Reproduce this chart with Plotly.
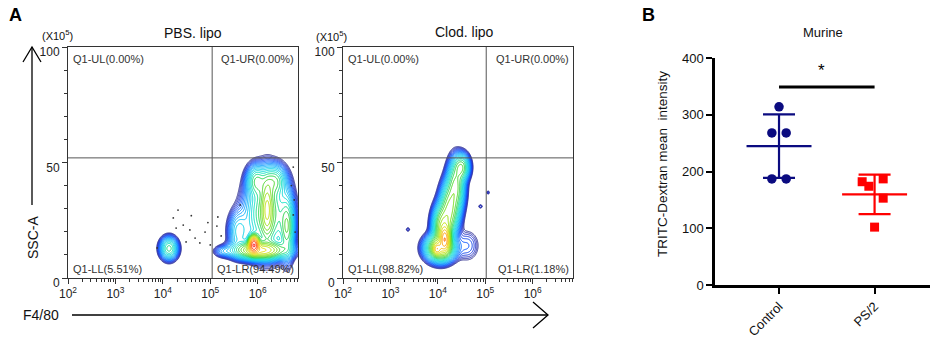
import numpy as np
import plotly.graph_objects as go

W, H = 931, 346
FONT = "Liberation Sans, Arial, sans-serif"

# ---------------- Panel A data (flow cytometry, log10 F4/80 vs SSC-A x10^5) ----------------
# Gaussian populations: centre (log10 x, y), spread, relative weight
pbs_lx = [4.13, 5.92, 6.05, 6.20, 5.98, 6.35, 6.20, 6.62, 5.60, 5.30]
pbs_y  = [12.8, 14.5, 12.0, 28.0, 42.0, 42.0, 30.0, 22.0, 20.0, 11.5]
pbs_sx = [0.10, 0.06, 0.28, 0.24, 0.11, 0.13, 0.07, 0.08, 0.12, 0.12]
pbs_sy = [2.6,  2.0,  2.0,  9.0,  3.5,  3.5,  7.0,  7.0,  5.0,  1.4]
pbs_w  = [0.7,  7.0,  2.5,  1.0,  0.7,  0.7,  1.3,  0.9,  0.35, 0.15]

clo_lx = [4.15, 3.98, 4.05, 4.10, 4.25, 4.38, 4.50, 4.62, 3.37, 4.90, 5.06]
clo_y  = [17.0, 12.5, 13.0, 22.0, 30.0, 40.0, 48.0, 14.0, 21.0, 31.0, 37.0]
clo_sx = [0.06, 0.05, 0.16, 0.11, 0.11, 0.10, 0.09, 0.15, 0.03, 0.03, 0.02]
clo_sy = [3.0,  1.5,  3.0,  5.0,  6.0,  6.0,  3.0,  4.0,  0.6,  0.6,  0.6]
clo_w  = [3.5,  2.0,  2.0,  1.5,  1.2,  1.0,  0.9,  0.08, 0.05, 0.05, 0.05]

# sparse single events (PBS)
pbs_dot_lx = [3.88, 4.22, 4.32, 4.43, 4.57, 4.68, 4.49, 4.78, 4.89, 4.28, 5.00,
              5.16, 5.14, 5.23, 6.75, 6.71, 6.77, 6.75, 6.79, 5.63, 4.60, 4.95]
pbs_dot_y  = [13.0, 26.0, 29.4, 22.9, 20.8, 17.3, 15.6, 15.2, 19.9, 21.6, 14.3,
              26.4, 22.5, 18.2, 48.0, 40.0, 33.8, 27.3, 19.9, 31.6, 27.0, 24.0]

gate_lx = [5.04, 5.02]      # vertical quadrant gate (log10)
gate_y = 52                 # horizontal quadrant gate
quad_pbs = ["Q1-UL(0.00%)", "Q1-UR(0.00%)", "Q1-LL(5.51%)", "Q1-LR(94.49%)"]
quad_clo = ["Q1-UL(0.00%)", "Q1-UR(0.00%)", "Q1-LL(98.82%)", "Q1-LR(1.18%)"]
decades = [2, 3, 4, 5, 6]

# ---------------- Panel B data ----------------
groups = ["Control", "PS/2"]
control_vals = [314, 268, 268, 187, 187]
ps2_vals = [182, 174, 187, 153, 102]
control_jit = [0.0, -0.075, 0.075, -0.075, 0.075]
ps2_jit = [-0.13, -0.06, 0.09, 0.09, 0.0]

def px(x): return x / W
def py(y): return 1 - y / H

fig = go.Figure()

gx = np.arange(2.0, 6.86, 0.01)
gy = np.arange(0.0, 62.0, 0.25)
LX, YY = np.meshgrid(gx, gy)

def density(lx, y, sx, sy, w):
    d = np.zeros_like(LX)
    for a, b, c, e, f in zip(lx, y, sx, sy, w):
        d += f * np.exp(-0.5 * (((LX - a) / c) ** 2 + ((YY - b) / e) ** 2))
    return np.log10(d + 1e-6).astype(np.float32)

jet = [[0.0, "#303090"], [0.1, "#2030d0"], [0.2, "#0050ff"], [0.3, "#0090ff"],
       [0.42, "#00c8f0"], [0.52, "#00e0c0"], [0.6, "#20d040"], [0.7, "#80dd00"],
       [0.79, "#e0e000"], [0.88, "#ffa000"], [1.0, "#ff0000"]]
zlo, zhi = -1.6, 0.9
AX = ["x", "x2"]
AY = ["y", "y2"]

for i, (lx, y, sx, sy, w) in enumerate([(pbs_lx, pbs_y, pbs_sx, pbs_sy, pbs_w),
                                          (clo_lx, clo_y, clo_sx, clo_sy, clo_w)]):
    z = density(lx, y, sx, sy, w)
    fig.add_trace(go.Contour(
        x=10 ** gx, y=gy, z=z, xaxis=AX[i], yaxis=AY[i],
        contours=dict(coloring="lines", start=zlo, end=zhi, size=0.1),
        colorscale=jet, zmin=zlo, zmax=zhi, showscale=False,
        line=dict(width=1), hoverinfo="skip"))

fig.add_trace(go.Scatter(x=10 ** np.array(pbs_dot_lx), y=pbs_dot_y, mode="markers",
                         marker=dict(size=1.8, color="#333"), xaxis="x", yaxis="y",
                         hoverinfo="skip"))

# Panel B
navy, red = "#0b0b80", "#ff0000"
for k, (vals, jit, col, sym) in enumerate([(control_vals, control_jit, navy, "circle"),
                                             (ps2_vals, ps2_jit, red, "square")]):
    v = np.array(vals, float)
    m, s = v.mean(), v.std(ddof=1)
    fig.add_trace(go.Scatter(x=k + np.array(jit), y=v, mode="markers",
                             marker=dict(symbol=sym, size=9.5 if sym == "circle" else 9, color=col),
                             xaxis="x3", yaxis="y3"))
    fig.add_trace(go.Scatter(x=[k - 0.34, k + 0.34], y=[m, m], mode="lines",
                             line=dict(color=col, width=2.2), xaxis="x3", yaxis="y3"))
    fig.add_trace(go.Scatter(x=[k], y=[m], mode="markers", marker=dict(size=0.1, color=col),
                             error_y=dict(type="data", array=[s], width=16, thickness=2.2, color=col),
                             xaxis="x3", yaxis="y3"))

fig.add_shape(type="line", xref="x3", yref="y3", x0=0, x1=1, y0=349, y1=349,
              line=dict(color="black", width=3))
fig.add_annotation(xref="x3", yref="y3", x=0.44, y=378, text="*", showarrow=False,
                   xanchor="center", yanchor="middle",
                   font=dict(size=17, color="black", family=FONT))

# Axes for panel A
def xa_log(dom, anchor):
    minor_vals = [m * 10 ** d for d in decades for m in range(2, 10)]
    return dict(domain=dom, type="log", range=[2, 6.85], showgrid=False, zeroline=False,
                anchor=anchor, automargin=False,
                tickvals=[10 ** d for d in decades],
                ticktext=[f"10<sup>{d}</sup>" for d in decades],
                ticks="outside", ticklen=5, tickcolor="#333", tickwidth=1,
                minor=dict(tickvals=minor_vals, ticks="outside", ticklen=3, tickcolor="#333"),
                showline=True, linecolor="#333", linewidth=1, mirror=True,
                tickfont=dict(size=12, family=FONT, color="#222"))

def ya_lin(dom, anchor):
    return dict(domain=dom, range=[0, 100], showgrid=False, zeroline=False, anchor=anchor,
                automargin=False, ticklabelshift=5,
                tickvals=[0, 50, 100], ticks="outside", ticklen=5, tickcolor="#333",
                minor=dict(dtick=10, ticks="outside", ticklen=3, tickcolor="#333"),
                showline=True, linecolor="#333", linewidth=1, mirror=True,
                tickfont=dict(size=12, family=FONT, color="#222"))

fig.update_layout(
    width=W, height=H, margin=dict(l=0, r=0, t=0, b=0, autoexpand=False),
    paper_bgcolor="white", plot_bgcolor="white", showlegend=False,
    font=dict(family=FONT, color="#111"),
    xaxis=xa_log([px(68), px(298)], "y"),
    yaxis=ya_lin([py(278), py(47)], "x"),
    xaxis2=xa_log([px(343), px(573)], "y2"),
    yaxis2=ya_lin([py(278), py(47)], "x2"),
    xaxis3=dict(domain=[px(715), px(930)], range=[-0.67, 1.58], anchor="y3",
                automargin=False,
                tickvals=[0, 1], ticktext=groups, tickangle=-45, ticks="outside",
                ticklen=6, tickwidth=2, tickcolor="black", showline=True, linecolor="black",
                linewidth=2.5, showgrid=False, zeroline=False,
                tickfont=dict(size=13, family=FONT, color="#111")),
    yaxis3=dict(domain=[py(285), py(58)], range=[0, 400], anchor="x3",
                automargin=False,
                tickvals=[0, 100, 200, 300, 400], ticks="outside", ticklen=6, tickwidth=2,
                tickcolor="black", showline=True, linecolor="black", linewidth=2.5,
                showgrid=False, zeroline=False,
                tickfont=dict(size=13, family=FONT, color="#111")),
)

# quadrant gates
for i, glx in enumerate(gate_lx):
    xr, yr = AX[i], AY[i]
    fig.add_shape(type="line", xref=xr, yref=yr, x0=10 ** glx, x1=10 ** glx, y0=0, y1=100,
                  line=dict(color="#555", width=1))
    fig.add_shape(type="line", xref=f"{xr} domain", yref=yr, x0=0, x1=1, y0=gate_y, y1=gate_y,
                  line=dict(color="#555", width=1))

def ann(x, y, text, size=13, xanchor="center", color="#111", **kw):
    fig.add_annotation(x=px(x), y=py(y), xref="paper", yref="paper", text=text,
                       xanchor=xanchor, yanchor="middle", showarrow=False,
                       font=dict(size=size, family=FONT, color=color), **kw)

# quadrant labels
for left, labels in [(68, quad_pbs), (343, quad_clo)]:
    right = left + 230
    ann(left + 3, 59, labels[0], 11, "left", "#333")
    ann(right - 2, 59, labels[1], 11, "right", "#333")
    ann(left + 3, 269, labels[2], 11, "left", "#333")
    ann(right - 2, 269, labels[3], 11, "right", "#333")

ann(15, 15, "<b>A</b>", 18, color="black")
ann(648, 15, "<b>B</b>", 18, color="black")
ann(193, 33, "PBS. lipo", 14)
ann(464, 32, "Clod. lipo", 14)
ann(57, 35, "(X10<sup>5</sup>)", 11)
ann(331, 36, "(X10<sup>5</sup>)", 11)
ann(33, 238, "SSC-A", 14, textangle=-90)
ann(41, 315, "F4/80", 14)
ann(823, 33, "Murine", 13)
ann(662, 164, "TRITC-Dextran mean  intensity", 13.5, textangle=-90)

# axis arrows
lk = dict(color="black", width=1.3)
fig.add_shape(type="line", xref="paper", yref="paper", x0=px(32), x1=px(32), y0=py(205), y1=py(47), line=lk)
fig.add_shape(type="path", xref="paper", yref="paper",
              path=f"M {px(23)} {py(62)} L {px(32)} {py(47)} L {px(41)} {py(62)}", line=lk)
fig.add_shape(type="line", xref="paper", yref="paper", x0=px(72), x1=px(548), y0=py(315), y1=py(315), line=lk)
fig.add_shape(type="path", xref="paper", yref="paper",
              path=f"M {px(533)} {py(302)} L {px(548)} {py(315)} L {px(533)} {py(328)}", line=lk)

fig.write_html("out.html", config={"displayModeBar": False},
               post_script="document.body.style.margin='0';document.body.style.overflow='hidden';")
